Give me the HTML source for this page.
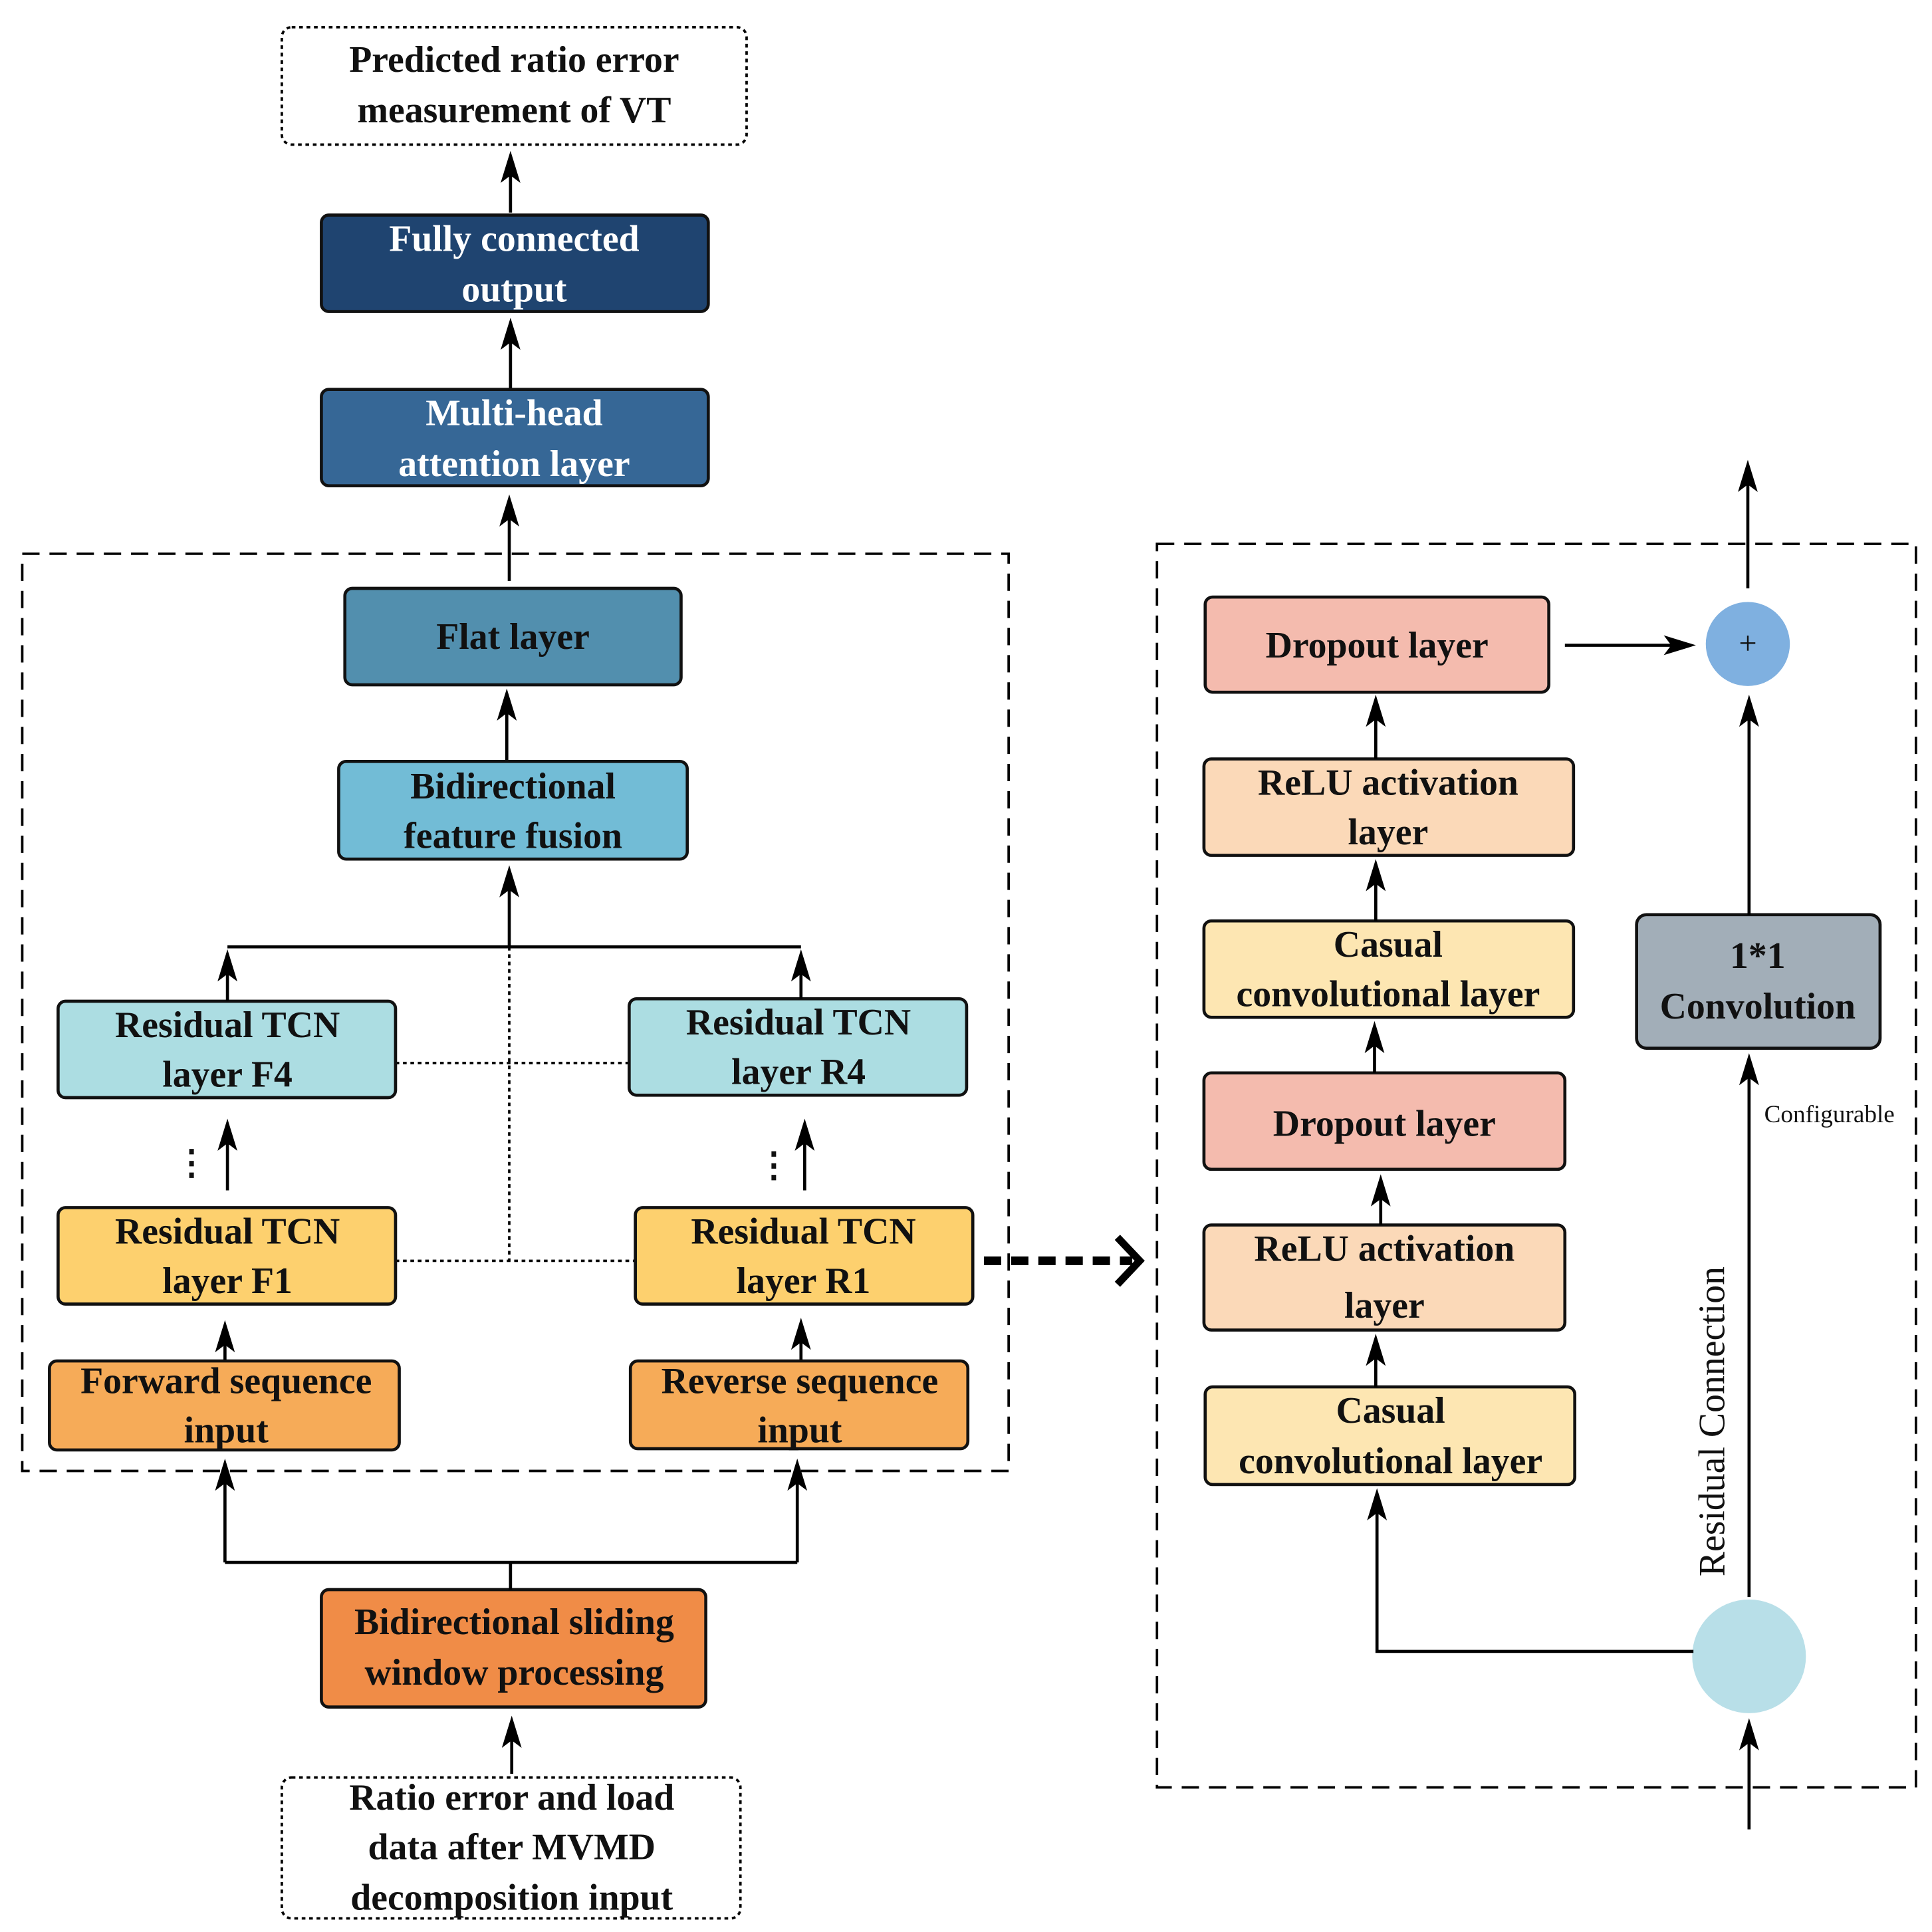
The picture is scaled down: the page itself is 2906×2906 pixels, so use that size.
<!DOCTYPE html>
<html><head><meta charset="utf-8"><style>html,body{margin:0;padding:0;background:#fff}svg{display:block}</style></head><body>
<svg xmlns="http://www.w3.org/2000/svg" width="2906" height="2906" viewBox="0 0 1563 1563">
<defs>
<path id="h" d="M0,0 L-8,26 L0,20 L8,26 z" fill="#000"/>
</defs>
<style>
text{font-family:"Liberation Serif",serif;font-weight:bold;font-size:30px;text-anchor:middle;fill:#111}
.w{fill:#fff}
.bx{stroke:#111;stroke-width:2.5}
line,polyline{stroke:#000;stroke-width:2.5;fill:none}
</style>
<g fill="none" stroke="#000" stroke-width="2" stroke-dasharray="14,8">
<rect x="18" y="448" width="798" height="742"/>
<rect x="936" y="440" width="614" height="1006"/>
</g>
<g fill="none" stroke="#000" stroke-width="2" stroke-dasharray="3,3">
<rect x="228" y="22" width="376" height="95" rx="8"/>
<rect x="228" y="1438" width="371" height="114" rx="8"/>
<polyline points="320,860 509,860" style="stroke-width:2;stroke-dasharray:3,3"/>
<polyline points="320,1020 514,1020" style="stroke-width:2;stroke-dasharray:3,3"/>
<polyline points="412,766 412,1020" style="stroke-width:2;stroke-dasharray:3,3"/>
</g>
<text x="416" y="58">Predicted ratio error</text><text x="416" y="99">measurement of VT</text>
<g class="bx">
<rect x="260" y="174" width="313" height="78" rx="6" fill="#1f4470"/>
<rect x="260" y="315" width="313" height="78" rx="6" fill="#366796"/>
<rect x="279" y="476" width="272" height="78" rx="6" fill="#528fae"/>
<rect x="274" y="616" width="282" height="79" rx="6" fill="#72bcd6"/>
<rect x="47" y="810" width="273" height="78" rx="6" fill="#acdde2"/>
<rect x="509" y="808" width="273" height="78" rx="6" fill="#acdde2"/>
<rect x="47" y="977" width="273" height="78" rx="6" fill="#fdd06e"/>
<rect x="514" y="977" width="273" height="78" rx="6" fill="#fdd06e"/>
<rect x="40" y="1101" width="283" height="72" rx="6" fill="#f6ab58"/>
<rect x="510" y="1101" width="273" height="71" rx="6" fill="#f6ab58"/>
<rect x="260" y="1286" width="311" height="95" rx="6" fill="#f08c47"/>
<rect x="975" y="483" width="278" height="77" rx="6" fill="#f4bbae"/>
<rect x="974" y="614" width="299" height="78" rx="6" fill="#fbd9b8"/>
<rect x="974" y="745" width="299" height="78" rx="6" fill="#fde6b2"/>
<rect x="974" y="868" width="292" height="78" rx="6" fill="#f4bbae"/>
<rect x="974" y="991" width="292" height="85" rx="6" fill="#fbd9b8"/>
<rect x="975" y="1122" width="299" height="79" rx="6" fill="#fde6b2"/>
<rect x="1324" y="740" width="197" height="108" rx="8" fill="#a2aeb8"/>
</g>
<circle cx="1414" cy="521" r="34" fill="#7fb0e0"/>
<circle cx="1415" cy="1340" r="46" fill="#b8dfe8"/>
<text class="w" x="416" y="203">Fully connected</text><text class="w" x="416" y="244">output</text>
<text class="w" x="416" y="344">Multi-head</text><text class="w" x="416" y="385">attention layer</text>
<text x="415" y="525">Flat layer</text>
<text x="415" y="646">Bidirectional</text><text x="415" y="686">feature fusion</text>
<text x="184" y="839">Residual TCN</text><text x="184" y="879">layer F4</text>
<text x="646" y="837">Residual TCN</text><text x="646" y="877">layer R4</text>
<text x="184" y="1006">Residual TCN</text><text x="184" y="1046">layer F1</text>
<text x="650" y="1006">Residual TCN</text><text x="650" y="1046">layer R1</text>
<text x="183" y="1127">Forward sequence</text><text x="183" y="1167">input</text>
<text x="647" y="1127">Reverse sequence</text><text x="647" y="1167">input</text>
<text x="416" y="1322">Bidirectional sliding</text><text x="416" y="1363">window processing</text>
<text x="414" y="1464">Ratio error and load</text><text x="414" y="1504">data after MVMD</text><text x="414" y="1545">decomposition input</text>
<text x="1114" y="532">Dropout layer</text>
<text x="1123" y="643">ReLU activation</text><text x="1123" y="683">layer</text>
<text x="1123" y="774">Casual</text><text x="1123" y="814">convolutional layer</text>
<text x="1120" y="919">Dropout layer</text>
<text x="1120" y="1020">ReLU activation</text><text x="1120" y="1066">layer</text>
<text x="1125" y="1151">Casual</text><text x="1125" y="1192">convolutional layer</text>
<text x="1422" y="783">1*1</text><text x="1422" y="824">Convolution</text>
<text x="1414" y="529" style="font-weight:normal;font-size:26px">+</text>
<text x="1480" y="908" style="font-weight:normal;font-size:20px">Configurable</text>
<text transform="translate(1395,1150) rotate(-90)" style="font-weight:normal;font-size:30px">Residual Connection</text>
<text x="155" y="950" style="font-size:28px">⋮</text>
<text x="626" y="952" style="font-size:28px">⋮</text>
<line x1="413" y1="172" x2="413" y2="130"/>
<line x1="413" y1="314" x2="413" y2="265"/>
<line x1="412" y1="470" x2="412" y2="408"/>
<line x1="410" y1="615" x2="410" y2="565"/>
<line x1="412" y1="766" x2="412" y2="708"/>
<line x1="184" y1="810" x2="184" y2="776"/>
<line x1="648" y1="808" x2="648" y2="776"/>
<line x1="184" y1="963" x2="184" y2="913"/>
<line x1="651" y1="963" x2="651" y2="913"/>
<line x1="182" y1="1100" x2="182" y2="1076"/>
<line x1="648" y1="1100" x2="648" y2="1074"/>
<line x1="182" y1="1264" x2="182" y2="1188"/>
<line x1="645" y1="1264" x2="645" y2="1188"/>
<line x1="414" y1="1435" x2="414" y2="1396"/>
<line x1="1266" y1="522" x2="1364" y2="522"/>
<line x1="1414" y1="476" x2="1414" y2="380"/>
<line x1="1113" y1="614" x2="1113" y2="570"/>
<line x1="1113" y1="745" x2="1113" y2="703"/>
<line x1="1112" y1="868" x2="1112" y2="834"/>
<line x1="1117" y1="991" x2="1117" y2="958"/>
<line x1="1113" y1="1122" x2="1113" y2="1087"/>
<polyline points="1370,1336 1114,1336 1114,1212"/>
<line x1="1415" y1="1480" x2="1415" y2="1398"/>
<line x1="1415" y1="1292" x2="1415" y2="860"/>
<line x1="1415" y1="740" x2="1415" y2="570"/>
<use href="#h" x="413" y="122"/>
<use href="#h" x="413" y="257"/>
<use href="#h" x="412" y="400"/>
<use href="#h" x="410" y="557"/>
<use href="#h" x="412" y="700"/>
<use href="#h" x="184" y="768"/>
<use href="#h" x="648" y="768"/>
<use href="#h" x="184" y="905"/>
<use href="#h" x="651" y="905"/>
<use href="#h" x="182" y="1068"/>
<use href="#h" x="648" y="1066"/>
<use href="#h" x="182" y="1180"/>
<use href="#h" x="645" y="1180"/>
<use href="#h" x="414" y="1388"/>
<use href="#h" x="1414" y="372"/>
<use href="#h" x="1113" y="562"/>
<use href="#h" x="1113" y="695"/>
<use href="#h" x="1112" y="826"/>
<use href="#h" x="1117" y="950"/>
<use href="#h" x="1113" y="1079"/>
<use href="#h" x="1114" y="1204"/>
<use href="#h" x="1415" y="1390"/>
<use href="#h" x="1415" y="852"/>
<use href="#h" x="1415" y="562"/>
<use href="#h" transform="translate(1372,522) rotate(90)"/>
<polyline points="184,766 648,766"/>
<polyline points="182,1264 645,1264"/>
<polyline points="413,1264 413,1286"/>
<line x1="796" y1="1020" x2="916" y2="1020" style="stroke-width:7;stroke-dasharray:14,8"/>
<polyline points="904,1001 922,1020 904,1039" style="stroke-width:6"/>
</svg>
</body></html>
